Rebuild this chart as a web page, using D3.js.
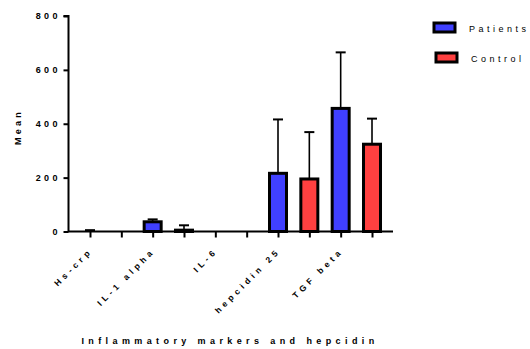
<!DOCTYPE html>
<html><head><meta charset="utf-8">
<script src="https://cdn.jsdelivr.net/npm/d3@7"></script>
<style>
body{margin:0;background:#fff;}
svg{display:block;font-family:"Liberation Sans",Arial,sans-serif;}
</style></head>
<body><svg id="c" width="530" height="349"></svg>
<script>
const categories = ["Hs-crp","IL-1 alpha","IL-6","hepcidin 25","TGF beta"];
const seriesNames = ["Patients","Control"];
const patients = [0, 36, 0, 216, 457];
const patientsErr = [5, 9, 0, 200, 208];
const control = [0, 5, 0, 195, 324];
const controlErr = [0, 18, 0, 174, 95];
const yTicks = [0, 200, 400, 600, 800];
const colors = ["#4040ff", "#ff4040"];

const svg = d3.select("#c");
const slots = [];
categories.forEach((c, i) => {
  slots.push({key: c + "|P", cat: c, s: 0, v: patients[i], e: patientsErr[i], first: true});
  slots.push({key: c + "|C", cat: c, s: 1, v: control[i], e: controlErr[i], first: false});
});

const x = d3.scalePoint().domain(slots.map(d => d.key)).range([69, 393]).padding(0.67);
const y = d3.scaleLinear().domain([0, 800]).range([231.5, 16]);

// bars
const bw = 17;
const g = svg.append("g");
g.selectAll("rect.bar").data(slots.filter(d => d.v > 0)).join("rect")
  .attr("x", d => x(d.key) - bw / 2)
  .attr("y", d => y(d.v))
  .attr("width", bw)
  .attr("height", d => y(0) - y(d.v))
  .attr("fill", d => colors[d.s])
  .attr("stroke", "#000").attr("stroke-width", 3);

// error bars
const eb = g.selectAll("g.err").data(slots.filter(d => d.e > 0)).join("g");
eb.append("line")
  .attr("x1", d => x(d.key)).attr("x2", d => x(d.key))
  .attr("y1", d => y(d.v)).attr("y2", d => y(d.v + d.e))
  .attr("stroke", "#000").attr("stroke-width", 1.6);
eb.append("line")
  .attr("x1", d => x(d.key) - 5).attr("x2", d => x(d.key) + 5)
  .attr("y1", d => y(d.v + d.e)).attr("y2", d => y(d.v + d.e))
  .attr("stroke", "#000").attr("stroke-width", 2);

// y axis
const ya = svg.append("g").attr("transform", "translate(68.5,0)")
  .call(d3.axisLeft(y).tickValues(yTicks).tickSize(5).tickPadding(6).tickFormat(d3.format("d")));
ya.select(".domain").attr("stroke-width", 2).attr("d", `M-5,${y(800)}H0V${y(0)}`);
ya.selectAll(".tick line").attr("stroke-width", 2);
ya.selectAll(".tick text").attr("font-size", 9).attr("font-weight", "bold")
  .attr("font-family", "Liberation Sans, Arial, sans-serif").attr("letter-spacing", 3.4)
  .attr("dx", 3.4);

// x axis
const xa = svg.append("g").attr("transform", `translate(0,${y(0)})`)
  .call(d3.axisBottom(x).tickSize(6).tickFormat(""));
xa.select(".domain").attr("stroke-width", 2).attr("d", "M68,0H393");
xa.selectAll(".tick line").attr("stroke-width", 2);

// category labels
svg.append("g").selectAll("text").data(slots.filter(d => d.first)).join("text")
  .attr("transform", d => `translate(${x(d.key) + 3},${y(0) + 20}) rotate(-45)`)
  .attr("text-anchor", "end")
  .attr("font-size", 8.5).attr("font-weight", "bold").attr("letter-spacing", 3.8)
  .text(d => d.cat);

// axis titles
svg.append("text").attr("x", 230).attr("y", 344).attr("text-anchor", "middle")
  .attr("font-size", 9).attr("font-weight", "bold").attr("letter-spacing", 4.4)
  .text("Inflammatory markers and hepcidin");
svg.append("text").attr("transform", "translate(21,127) rotate(-90)").attr("text-anchor", "middle")
  .attr("font-size", 9).attr("font-weight", "bold").attr("letter-spacing", 3.2)
  .text("Mean");

// legend
const leg = svg.append("g").selectAll("g").data(seriesNames).join("g")
  .attr("transform", (d, i) => `translate(${434 + i * 2},${23 + i * 30})`);
leg.append("rect").attr("width", 21).attr("height", 9)
  .attr("fill", (d, i) => colors[i]).attr("stroke", "#000").attr("stroke-width", 3);
leg.append("text").attr("x", 35).attr("y", 8.5)
  .attr("font-size", 9).attr("letter-spacing", 3.5).text(d => d);
</script></body></html>
